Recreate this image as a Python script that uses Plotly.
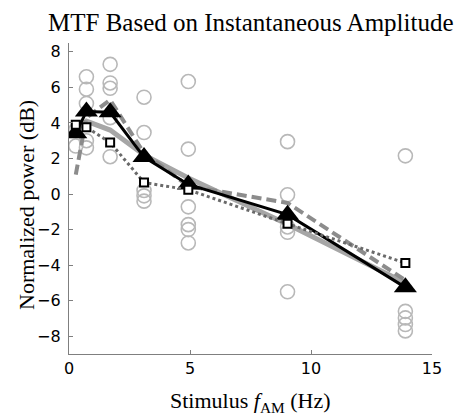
import plotly.graph_objects as go

# ---- data ----
freqs = [0.28, 0.72, 1.7, 3.1, 4.93, 9.03, 13.9]

circles_x = ([0.28] * 2 + [0.72] * 5 + [1.7] * 5 + [3.1] * 5 + [4.93] * 6
             + [9.03] * 5 + [13.9] * 5)
circles_y = ([3.6, 2.7,
              6.6, 5.9, 5.1, 3.0, 2.6,
              7.3, 6.25, 5.95, 4.3, 2.1,
              5.45, 3.46, 0.2, -0.1, -0.4,
              6.33, 2.53, -0.72, -1.72, -2.0, -2.75,
              2.95, -0.04, -1.85, -2.15, -5.5,
              2.15, -6.6, -6.97, -7.34, -7.7])

gray_solid = [3.6, 4.1, 3.6, 2.2, 0.9, -1.7, -5.0]
gray_dashed = [1.1, 4.3, 5.3, 2.3, 0.45, -0.5, -4.85]
squares = [3.9, 3.76, 2.9, 0.65, 0.24, -1.67, -3.88]
triangles = [3.42, 4.65, 4.6, 2.08, 0.54, -1.16, -5.25]

x_ticks = [0, 5, 10, 15]
y_ticks = [-8, -6, -4, -2, 0, 2, 4, 6, 8]

title_text = "MTF Based on Instantaneous Amplitude"
x_title = "Stimulus <i>f</i><sub>AM</sub> (Hz)"
y_title = "Normalized power (dB)"

# page body has an 8px margin, so the figure is drawn 8px smaller
W, H = 457, 411
L, R, T, B = 61, 33, 35, 65
PW, PH = W - L - R, H - T - B

fig = go.Figure()
fig.add_trace(go.Scatter(x=circles_x, y=circles_y, mode="markers",
                         marker=dict(symbol="circle-open", size=14,
                                     color="#b8b8b8", line=dict(width=1.6, color="#b8b8b8")),
                         showlegend=False))
fig.add_trace(go.Scatter(x=freqs, y=gray_solid, mode="lines",
                         line=dict(color="#a6a6a6", width=5), showlegend=False))
fig.add_trace(go.Scatter(x=freqs, y=gray_dashed, mode="lines",
                         line=dict(color="#8c8c8c", width=4, dash="10px,5px"),
                         showlegend=False))
fig.add_trace(go.Scatter(x=freqs, y=triangles, mode="lines+markers",
                         line=dict(color="black", width=3),
                         marker=dict(symbol="triangle-up", size=20, color="black"),
                         showlegend=False))
fig.add_trace(go.Scatter(x=freqs, y=squares, mode="lines+markers",
                         line=dict(color="#6a6a6a", width=3, dash="dot"),
                         marker=dict(symbol="square", size=8, color="white",
                                     line=dict(color="black", width=2)),
                         showlegend=False))

axis_common = dict(showgrid=False, zeroline=False, showline=True,
                   linecolor="#7f7f7f", linewidth=1.2, ticks="inside",
                   ticklen=4, tickcolor="#7f7f7f",
                   tickfont=dict(family="DejaVu Sans", size=16, color="black"))

fig.update_xaxes(range=[0, 15], tickvals=x_ticks, **axis_common)
fig.update_yaxes(range=[-9, 8.5], tickvals=y_ticks, ticklabelstandoff=4, **axis_common)

serif = "Liberation Serif"
fig.update_layout(
    width=W, height=H,
    margin=dict(l=L, r=R, t=T, b=B),
    plot_bgcolor="white", paper_bgcolor="white",
    annotations=[
        dict(text=title_text, xref="paper", yref="paper", x=0.5,
             y=1 + (T - 15) / PH, yanchor="middle", showarrow=False,
             font=dict(family=serif, size=25, color="black")),
        dict(text=x_title, xref="paper", yref="paper", x=0.5,
             y=-(394 - (H - B)) / PH, yanchor="middle", showarrow=False,
             font=dict(family=serif, size=22, color="black")),
        dict(text=y_title, xref="paper", yref="paper",
             x=-(L - 18) / PW, y=1 - (197 - T) / PH,
             xanchor="center", yanchor="middle", textangle=-90, showarrow=False,
             font=dict(family=serif, size=22, color="black")),
    ],
)

fig.write_html("out.html")
